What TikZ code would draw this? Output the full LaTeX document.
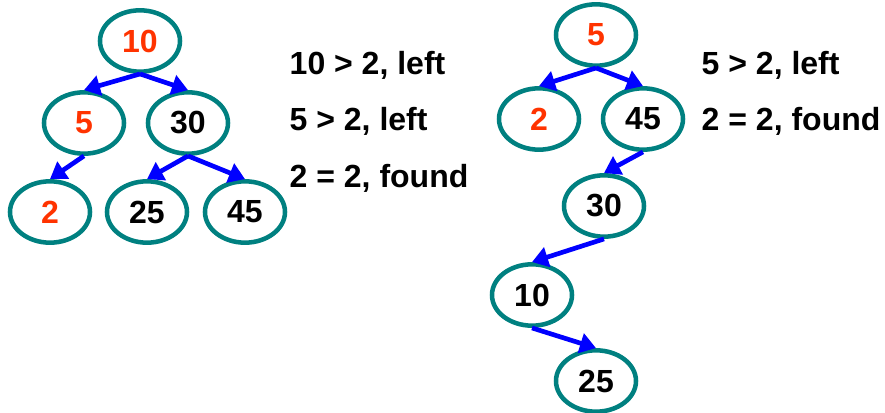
\documentclass[tikz,border=0pt]{standalone}
\usepackage{fontspec}
\setmainfont{Liberation Sans}
\usetikzlibrary{arrows.meta,shapes.geometric}
\definecolor{ringteal}{RGB}{0,128,128}
\definecolor{hitred}{RGB}{255,51,0}
\definecolor{linkblue}{RGB}{0,0,255}
\tikzset{
  keynode/.style={ellipse,draw=ringteal,line width=3.4pt,minimum width=60pt,minimum height=46pt,inner sep=0pt,
    font=\fontsize{24}{28}\selectfont\bfseries},
  hit/.style={text=hitred},
  link/.style={draw=linkblue,line width=3.5pt,-{Triangle[length=12pt,width=15pt]}},
  steptext/.style={anchor=west,font=\fontsize{24}{28}\selectfont\bfseries}
}

\begin{document}
\begin{tikzpicture}[x=0.75pt,y=-0.75pt]
\useasboundingbox (0,0) rectangle (885,413);
\begin{scope}
\node[keynode,hit] (n10) at (140,41) {10};
\node[keynode,hit] (n5) at (84,123) {5};
\node[keynode] (n30) at (188,123) {30};
\node[keynode,hit] (n2) at (50,212) {2};
\node[keynode] (n25) at (147,212) {25};
\node[keynode] (n45) at (245,212) {45};
\draw[link] (n10.south) -- (n5.north);
\draw[link] (n10.south) -- (n30.north);
\draw[link] (n5.south) -- (n2.north);
\draw[link] (n30.south) -- (n25.north);
\draw[link] (n30.south) -- (n45.north);
\node[steptext] (t1) at (285,65) {10 > 2, left};
\node[steptext] (t2) at (285,121) {5 > 2, left};
\node[steptext] (t3) at (285,178) {2 = 2, found};
\end{scope}
\begin{scope}
\node[keynode,hit] (m5) at (596,35) {5};
\node[keynode,hit] (m2) at (539,119) {2};
\node[keynode] (m45) at (643,119) {45};
\node[keynode] (m30) at (604,206) {30};
\node[keynode] (m10) at (532,295) {10};
\node[keynode] (m25) at (596,381) {25};
\draw[link] (m5.south) -- (m2.north);
\draw[link] (m5.south) -- (m45.north);
\draw[link] (m45.south) -- (m30.north);
\draw[link] (m30.south) -- (m10.north);
\draw[link] (m10.south) -- (m25.north);
\node[steptext] (u1) at (697,65) {5 > 2, left};
\node[steptext] (u2) at (697,121) {2 = 2, found};
\end{scope}
\end{tikzpicture}
\end{document}
